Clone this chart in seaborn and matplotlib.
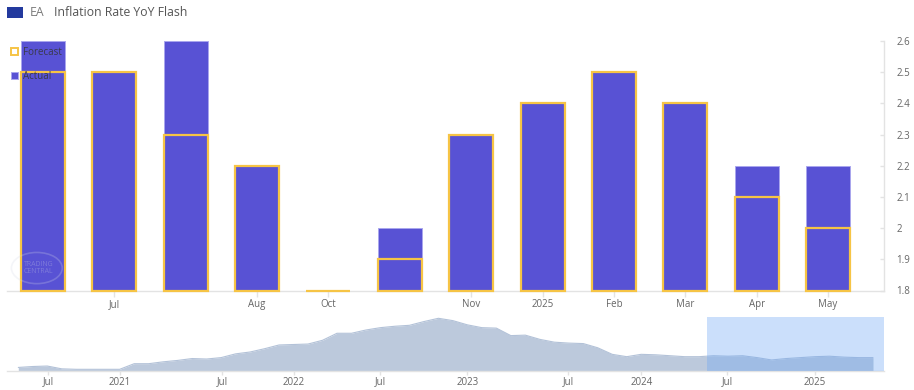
import numpy as np
import pandas as pd
import matplotlib
matplotlib.use("Agg")
import matplotlib.pyplot as plt
from matplotlib.patches import Patch, Rectangle, Ellipse
import seaborn as sns

# ---------------- data ----------------
release_dates = ["2024-06-04", "2024-07-02", "2024-07-31", "2024-08-30",
                 "2024-10-01", "2024-10-31", "2024-11-29", "2025-01-07",
                 "2025-02-03", "2025-03-03", "2025-04-01", "2025-05-02"]
tick_labels = ["", "Jul", "", "Aug", "Oct", "", "Nov", "2025", "Feb", "Mar", "Apr", "May"]
actual = [2.6, 2.5, 2.6, 2.2, 1.8, 2.0, 2.3, 2.4, 2.5, 2.4, 2.2, 2.2]
forecast = [2.5, 2.5, 2.3, 2.2, 1.8, 1.9, 2.3, 2.4, 2.5, 2.4, 2.1, 2.0]
y_ticks = [1.8, 1.9, 2.0, 2.1, 2.2, 2.3, 2.4, 2.5, 2.6]

# navigator history (monthly, May 2020 .. Apr 2025)
nav_values = [0.1, 0.3, 0.4, -0.2, -0.3, -0.3, -0.3, -0.3,
              0.9, 0.9, 1.3, 1.6, 2.0, 1.9, 2.2, 3.0, 3.4, 4.1, 4.9, 5.0,
              5.1, 5.9, 7.4, 7.4, 8.1, 8.6, 8.9, 9.1, 9.9, 10.6, 10.1, 9.2,
              8.6, 8.5, 6.9, 7.0, 6.1, 5.5, 5.3, 5.2, 4.3, 2.9, 2.4, 2.9,
              2.8, 2.6, 2.4, 2.4, 2.6, 2.5, 2.6, 2.2, 1.7, 2.0, 2.2, 2.4,
              2.5, 2.3, 2.2, 2.2]
nav_tick_pos = [2.07, 7.03, 14.07, 19.0, 25.0, 31.0, 37.95, 43.0, 48.95, 55.0]
nav_tick_labels = ["Jul", "2021", "Jul", "2022", "Jul", "2023", "Jul", "2024", "Jul", "2025"]

# ---------------- style ----------------
sns.set_style("white")
plt.rcParams["font.family"] = ["Open Sans", "DejaVu Sans"]

PURPLE = "#5852D4"
PURPLE_EDGE = "#A9A6EE"
YELLOW = "#F6C445"
AXIS = "#E3E3E3"
TXT = "#666666"
Y_MIN, Y_MAX = 1.8, 2.6

W, H = 914, 390
fig = plt.figure(figsize=(W / 100, H / 100), dpi=100)

def px_axes(x0, y0, x1, y1):
    return fig.add_axes([x0 / W, 1 - y1 / H, (x1 - x0) / W, (y1 - y0) / H])

# ---------------- main chart ----------------
ax = px_axes(7, 41, 884, 290.5)
df = pd.DataFrame({"date": release_dates,
                   "actual": np.array(actual) - Y_MIN,
                   "forecast": np.array(forecast) - Y_MIN})

sns.barplot(data=df, x="date", y="actual", order=release_dates, color=PURPLE,
            edgecolor=PURPLE_EDGE, linewidth=0.7, width=0.617, errorbar=None,
            bottom=Y_MIN, saturation=1, ax=ax, zorder=2)
n_before = len(ax.patches)
sns.barplot(data=df, x="date", y="forecast", order=release_dates, color=YELLOW,
            fill=False, linewidth=1.6, width=0.617, errorbar=None,
            bottom=Y_MIN, saturation=1, ax=ax, zorder=3)
for p in ax.patches[n_before:]:
    p.set_clip_on(False)

ax.set_xlim(-0.505, 11.785)
ax.set_ylim(Y_MIN, Y_MAX)
ax.set_xlabel("")
ax.set_ylabel("")

lab_pos = [i for i, t in enumerate(tick_labels) if t]
ax.set_xticks(lab_pos)
ax.set_xticklabels([tick_labels[i] for i in lab_pos])
ax.tick_params(axis="x", bottom=True, length=4, width=1, color=AXIS,
               labelsize=7, labelcolor=TXT, pad=2)

ax.yaxis.tick_right()
ax.set_yticks(y_ticks)
ax.set_yticklabels([f"{v:g}" for v in y_ticks])
ax.tick_params(axis="y", right=True, left=False, direction="in", length=3,
               width=1, color=AXIS, labelsize=7, labelcolor=TXT, pad=9)

for s in ["top", "left"]:
    ax.spines[s].set_visible(False)
for s in ["bottom", "right"]:
    ax.spines[s].set_color(AXIS)
    ax.spines[s].set_linewidth(1)
ax.grid(False)

handles = [Patch(facecolor="white", edgecolor=YELLOW, linewidth=1.4, label="Forecast"),
           Patch(facecolor=PURPLE, edgecolor=PURPLE_EDGE, linewidth=0.7, label="Actual")]
leg = ax.legend(handles=handles, loc="upper left", bbox_to_anchor=(0.0046, 0.976),
                frameon=False, fontsize=7, handlelength=0.75, handleheight=0.75,
                handletextpad=0.5, labelspacing=1.3, borderpad=0, borderaxespad=0)
leg.set_zorder(10)
for t in leg.get_texts():
    t.set_color("#3a3a4a")

# faint watermark
ax.add_patch(Ellipse((0.034, 0.09), 0.058, 0.125, transform=ax.transAxes,
                     fill=False, edgecolor="#d5d8e6", linewidth=1.2, alpha=0.25, zorder=4))
ax.text(0.036, 0.09, "TRADING\nCENTRAL", transform=ax.transAxes, ha="center",
        va="center", fontsize=5, color="#d5d8e6", alpha=0.3, linespacing=1.0, zorder=4)

# ---------------- navigator ----------------
nav = px_axes(7, 316.7, 884, 371)
NAV_MIN, NAV_MAX = -0.66, 10.94
nav_idx = np.arange(len(nav_values))
nav_df = pd.DataFrame({"i": nav_idx, "v": nav_values})
nav.fill_between(nav_df["i"], nav_df["v"], NAV_MIN, color="#BCC9DC", linewidth=0, zorder=1)
sns.lineplot(data=nav_df, x="i", y="v", color="#B3C2D8", linewidth=0.8, ax=nav, zorder=2)
nav.set_xlim(-0.78, 59.76)
nav.set_ylim(NAV_MIN, NAV_MAX)
nav.axvspan(47.52, 59.76, color="#6AA5F5", alpha=0.35, linewidth=0, zorder=3)
nav.set_xlabel("")
nav.set_ylabel("")
nav.set_yticks([])
nav.set_xticks(nav_tick_pos)
nav.set_xticklabels(nav_tick_labels)
nav.tick_params(axis="x", bottom=True, length=3, width=1, color=AXIS,
                labelsize=7, labelcolor=TXT, pad=1)
for s in ["top", "left", "right"]:
    nav.spines[s].set_visible(False)
nav.spines["bottom"].set_color(AXIS)
nav.spines["bottom"].set_linewidth(1)
nav.grid(False)

# ---------------- title ----------------
fig.add_artist(Rectangle((7 / W, 1 - 18 / H), 16 / W, 11 / H, transform=fig.transFigure,
                         facecolor="#233A9E", edgecolor="none"))
fig.text(30 / W, 1 - 16.3 / H, "EA", fontsize=8.8, color="#7a7a7a", va="baseline")
fig.text(53.5 / W, 1 - 16.3 / H, "Inflation Rate YoY Flash", fontsize=8.8,
         color="#555555", va="baseline")

fig.savefig("out.png", dpi=100, facecolor="white")
